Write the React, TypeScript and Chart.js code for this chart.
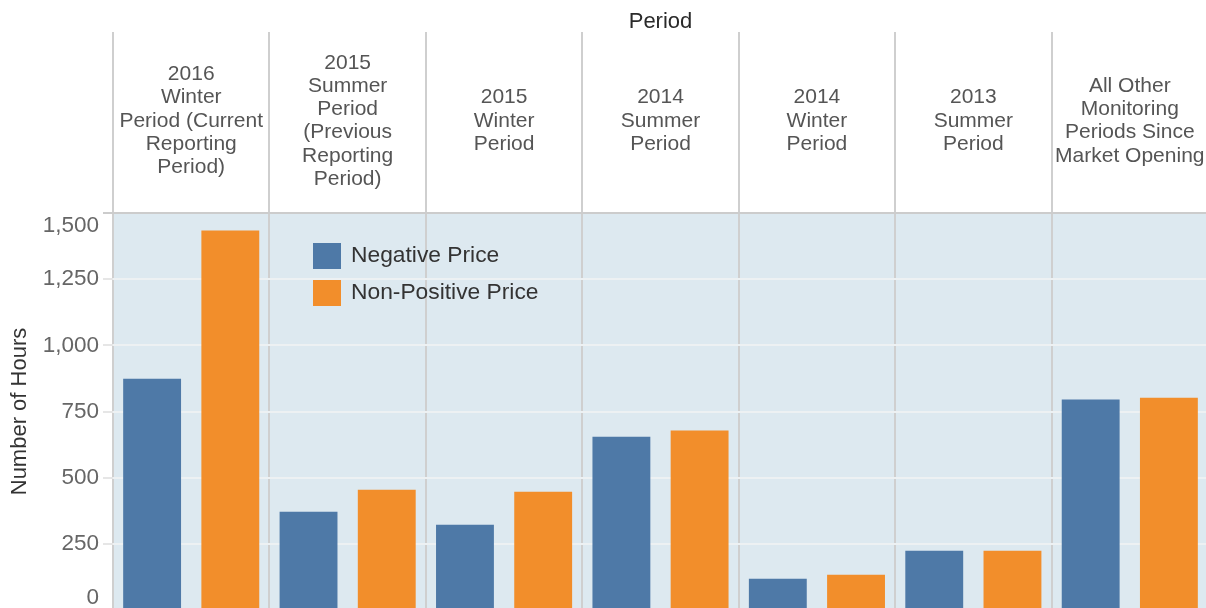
import React, { useEffect, useRef } from 'react';
import { Chart, registerables } from 'chart.js';

Chart.register(...registerables);

const categories: string[][] = [
  ['2016', 'Winter', 'Period (Current', 'Reporting', 'Period)'],
  ['2015', 'Summer', 'Period', '(Previous', 'Reporting', 'Period)'],
  ['2015', 'Winter', 'Period'],
  ['2014', 'Summer', 'Period'],
  ['2014', 'Winter', 'Period'],
  ['2013', 'Summer', 'Period'],
  ['All Other', 'Monitoring', 'Periods Since', 'Market Opening'],
];
const negativePrice = [874, 371, 322, 655, 118, 224, 795];
const nonPositivePrice = [1434, 454, 447, 678, 133, 224, 802];
const yTicks = [0, 250, 500, 750, 1000, 1250, 1500];
const seriesNames = ['Negative Price', 'Non-Positive Price'];
const seriesColors = ['#4e79a7', '#f28e2b'];
const headerTitle = 'Period';
const yTitle = 'Number of Hours';

const FONT = '"Liberation Sans", Arial, Helvetica, sans-serif';

const decor = {
  id: 'decor',
  beforeDraw(chart: any) {
    const { ctx, chartArea: a } = chart;
    ctx.save();
    ctx.fillStyle = '#dde9f0';
    ctx.fillRect(a.left, a.top, a.right - a.left, a.bottom - a.top);
    ctx.restore();
  },
  afterDraw(chart: any) {
    const { ctx, chartArea: a, scales } = chart;
    const xs = scales.x;
    const ys = scales.y;
    ctx.save();
    ctx.textAlign = 'center';
    ctx.textBaseline = 'middle';
    // header title
    ctx.font = `22px ${FONT}`;
    ctx.fillStyle = '#2a2a2a';
    ctx.fillText(headerTitle, (a.left + a.right) / 2, 22);
    // header category labels
    ctx.font = `21px ${FONT}`;
    ctx.fillStyle = '#555555';
    categories.forEach((lines, i) => {
      const cx = xs.getPixelForValue(i);
      const n = lines.length;
      lines.forEach((ln, j) => {
        ctx.fillText(ln, cx, 121 + (j - (n - 1) / 2) * 23.3);
      });
    });
    // y tick labels
    ctx.font = `22.5px ${FONT}`;
    ctx.fillStyle = '#666666';
    ctx.textAlign = 'right';
    yTicks.forEach((v) => {
      let py = ys.getPixelForValue(v);
      py = Math.min(Math.max(py, a.top + 13), a.bottom - 12);
      ctx.fillText(v.toLocaleString('en-US'), a.left - 14, py);
    });
    // legend
    ctx.textAlign = 'left';
    ctx.font = `22.8px ${FONT}`;
    chart.data.datasets.forEach((ds: any, i: number) => {
      const top = 243 + i * 37;
      ctx.fillStyle = ds.backgroundColor;
      ctx.fillRect(313, top, 28, 26);
      ctx.fillStyle = '#333333';
      ctx.fillText(ds.label, 351, top + 13);
    });
    // y title
    ctx.translate(20, (a.top + a.bottom) / 2);
    ctx.rotate(-Math.PI / 2);
    ctx.textAlign = 'center';
    ctx.font = `22px ${FONT}`;
    ctx.fillStyle = '#333333';
    ctx.fillText(yTitle, 0, 0);
    ctx.restore();
  },
};

export default function App() {
  const ref = useRef<HTMLCanvasElement>(null);
  useEffect(() => {
    const chart = new Chart(ref.current as HTMLCanvasElement, {
      type: 'bar',
      data: {
        labels: categories.map((c) => c.join(' ')),
        datasets: [
          {
            label: seriesNames[0],
            data: negativePrice,
            backgroundColor: seriesColors[0],
            borderWidth: 0,
            categoryPercentage: 1,
            barPercentage: 0.74,
          },
          {
            label: seriesNames[1],
            data: nonPositivePrice,
            backgroundColor: seriesColors[1],
            borderWidth: 0,
            categoryPercentage: 1,
            barPercentage: 0.74,
          },
        ],
      },
      options: {
        animation: false,
        responsive: false,
        devicePixelRatio: 1,
        layout: { padding: { top: 32, left: 103, right: 2, bottom: 2 } },
        plugins: {
          legend: { display: false },
          tooltip: { enabled: false },
          title: { display: false },
        },
        scales: {
          x: {
            position: 'top',
            offset: true,
            ticks: { display: false },
            border: { display: false },
            grid: {
              offset: true,
              color: '#cfcfcf',
              tickColor: '#cfcfcf',
              lineWidth: 2,
              drawTicks: true,
              tickLength: 181,
            },
          },
          y: {
            min: 0,
            max: 1500,
            ticks: { display: false, stepSize: 250 },
            border: { display: false },
            grid: {
              color: (c: any) => (c.tick && c.tick.value === 1500 ? '#cccccc' : '#edf1f3'),
              tickColor: (c: any) => (c.tick && c.tick.value === 1500 ? '#cccccc' : '#e6e6e6'),
              lineWidth: 2,
              drawTicks: true,
              tickLength: 10,
            },
          },
        },
      },
      plugins: [decor],
    } as any);
    return () => chart.destroy();
  }, []);
  return (
    <div
      style={{
        position: 'fixed',
        left: 0,
        top: 0,
        width: 1206,
        height: 608,
        overflow: 'hidden',
        background: '#ffffff',
      }}
    >
      <canvas ref={ref} width={1210} height={612} style={{ display: 'block', width: 1210, height: 612 }} />
    </div>
  );
}
